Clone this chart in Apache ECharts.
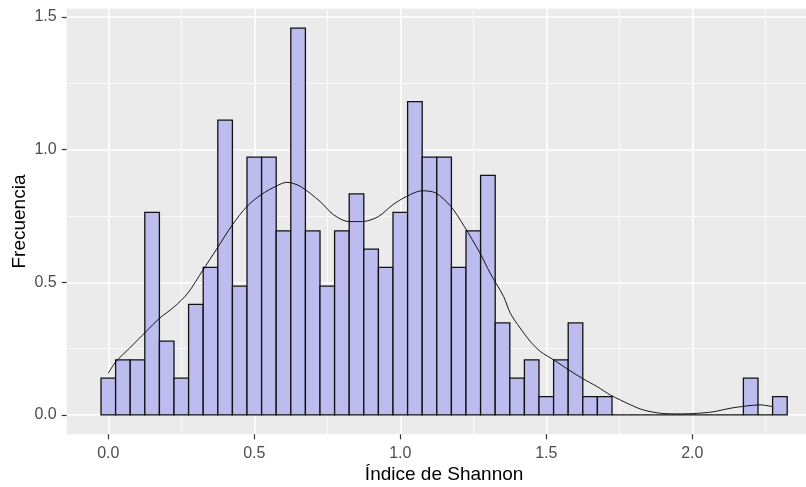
<!DOCTYPE html>
<html>
<head>
<meta charset="utf-8">
<script src="https://cdn.jsdelivr.net/npm/echarts@6/dist/echarts.min.js"></script>
<style>
html,body{margin:0;padding:0;background:#fff;}
#chart{width:806px;height:487px;}
</style>
</head>
<body>
<div id="chart"></div>
<script>
// ---- Data ----
const binWidth = 0.05;
const binCenters = [0.00,0.05,0.10,0.15,0.20,0.25,0.30,0.35,0.40,0.45,
  0.50,0.55,0.60,0.65,0.70,0.75,0.80,0.85,0.90,0.95,
  1.00,1.05,1.10,1.15,1.20,1.25,1.30,1.35,1.40,1.45,
  1.50,1.55,1.60,1.65,1.70,1.75,1.80,1.85,1.90,1.95,
  2.00,2.05,2.10,2.15,2.20,2.25,2.30];
const binDensity = [0.139,0.208,0.208,0.764,0.278,0.139,0.417,0.556,1.111,0.486,
  0.972,0.972,0.694,1.458,0.694,0.486,0.694,0.833,0.625,0.556,
  0.764,1.181,0.972,0.972,0.556,0.694,0.903,0.347,0.139,0.208,
  0.069,0.208,0.347,0.069,0.069,0,0,0,0,0,
  0,0,0,0,0.139,0,0.069];
const densX = [0.00,0.026,0.072,0.129,0.175,0.226,0.272,0.324,0.369,0.425,0.475,0.523,0.574,0.611,0.657,
  0.725,0.771,0.824,0.871,0.925,0.974,1.022,1.074,1.121,1.173,1.219,1.273,1.308,1.354,1.377,1.411,1.446,
  1.480,1.526,1.577,1.623,1.674,1.720,1.789,1.832,1.895,1.958,2.015,2.072,2.129,2.186,2.232,2.277];
const densY = [0.157,0.201,0.251,0.314,0.364,0.408,0.459,0.546,0.622,0.717,0.786,0.830,0.862,0.877,0.862,
  0.805,0.755,0.729,0.729,0.748,0.792,0.824,0.845,0.837,0.786,0.711,0.610,0.534,0.446,0.383,0.327,0.276,
  0.239,0.207,0.170,0.138,0.107,0.075,0.038,0.019,0.006,0.004,0.006,0.012,0.025,0.034,0.038,0.031];
const xMajorTicks = [0, 0.5, 1.0, 1.5, 2.0];
const xMinorTicks = [0.25, 0.75, 1.25, 1.75, 2.25];
const yMajorTicks = [0, 0.5, 1.0, 1.5];
const yMinorTicks = [0.25, 0.75, 1.25];
const xTitle = 'Índice de Shannon';
const yTitle = 'Frecuencia';

// ---- Chart ----
const FONT = '"Liberation Sans", Arial, sans-serif';
const xMin = -0.1425, xMax = 2.4425, yMin = -0.0729, yMax = 1.531;
const chart = echarts.init(document.getElementById('chart'), null, {renderer:'canvas'});

const histData = binCenters.map((c, i) => [c, binDensity[i]]);
const lineData = densX.map((x, i) => [x, densY[i]]);

const fmt = v => v.toFixed(1);

chart.setOption({
  animation: false,
  backgroundColor: '#ffffff',
  textStyle: {fontFamily: FONT},
  grid: {left: 66.7, right: -15.5, top: 8.8, bottom: 52.7, show: true,
         backgroundColor: '#EBEBEB', borderWidth: 0, containLabel: false,
         outerBoundsMode: 'none'},
  xAxis: [{
    type: 'value', min: xMin, max: xMax, position: 'bottom',
    name: xTitle, nameLocation: 'middle', nameGap: 31, nameMoveOverlap: false,
    nameTextStyle: {color: '#000', fontSize: 19, fontFamily: FONT},
    axisLine: {show: false, onZero: false},
    axisTick: {show: true, length: 5, customValues: xMajorTicks, lineStyle: {color: '#333', width: 1.2}},
    axisLabel: {show: true, customValues: xMajorTicks, formatter: fmt, color: '#4D4D4D', fontSize: 16, margin: 11, fontFamily: FONT},
    splitLine: {show: true, lineStyle: {color: '#ffffff', width: 1.6}}
  }, {
    type: 'value', min: xMin, max: xMax, position: 'bottom',
    axisLine: {show: false, onZero: false},
    axisTick: {show: false, customValues: xMinorTicks},
    axisLabel: {show: false, customValues: xMinorTicks},
    splitLine: {show: true, lineStyle: {color: '#ffffff', width: 0.8}}
  }],
  yAxis: [{
    type: 'value', min: yMin, max: yMax, position: 'left',
    name: yTitle, nameLocation: 'middle', nameGap: 37, nameRotate: 90, nameMoveOverlap: false,
    nameTextStyle: {color: '#000', fontSize: 19, fontFamily: FONT},
    axisLine: {show: false, onZero: false},
    axisTick: {show: true, length: 5, customValues: yMajorTicks, lineStyle: {color: '#333', width: 1.2}},
    axisLabel: {show: true, customValues: yMajorTicks, formatter: fmt, color: '#4D4D4D', fontSize: 16, margin: 10, fontFamily: FONT},
    splitLine: {show: true, lineStyle: {color: '#ffffff', width: 1.6}}
  }, {
    type: 'value', min: yMin, max: yMax, position: 'left',
    axisLine: {show: false, onZero: false},
    axisTick: {show: false, customValues: yMinorTicks},
    axisLabel: {show: false, customValues: yMinorTicks},
    splitLine: {show: true, lineStyle: {color: '#ffffff', width: 0.8}}
  }],
  series: [{
    type: 'custom',
    xAxisIndex: 0, yAxisIndex: 0,
    data: histData,
    renderItem: function (params, api) {
      const c = api.value(0), h = api.value(1);
      const p0 = api.coord([c - binWidth / 2, h]);
      const p1 = api.coord([c + binWidth / 2, 0]);
      return {
        type: 'rect',
        shape: {x: p0[0], y: p0[1], width: p1[0] - p0[0], height: p1[1] - p0[1]},
        style: {fill: '#BCBCEF', stroke: '#111', lineWidth: 1.3}
      };
    },
    z: 2
  }, {
    type: 'line',
    xAxisIndex: 0, yAxisIndex: 0,
    data: lineData,
    smooth: 0.3,
    showSymbol: false,
    symbol: 'none',
    lineStyle: {color: '#000', width: 0.9},
    z: 3
  }]
});
</script>
</body>
</html>
